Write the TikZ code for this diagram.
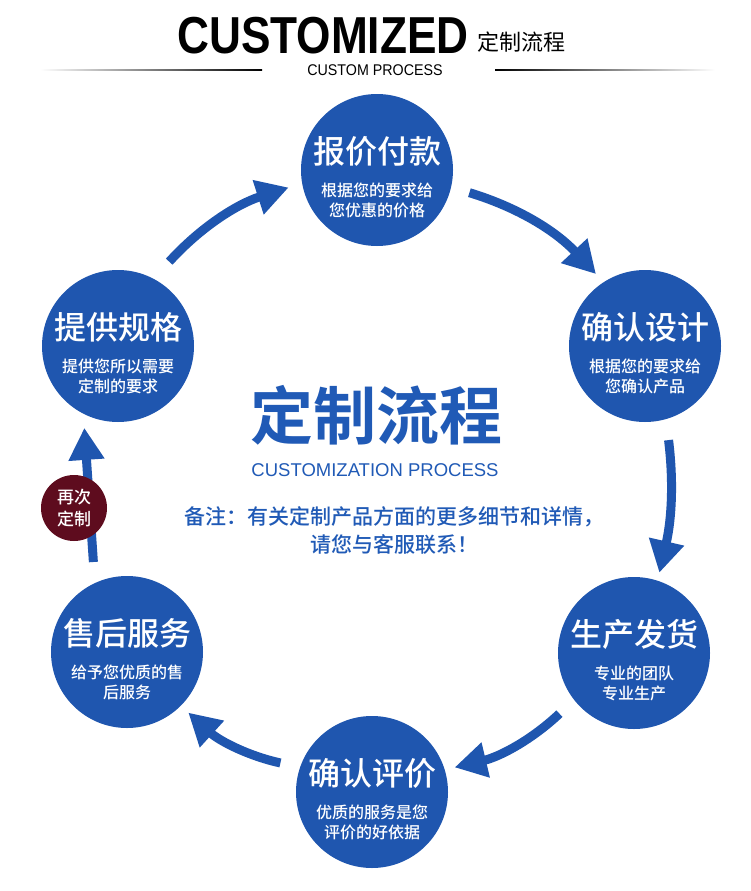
\documentclass[tikz,border=0pt]{standalone}
\usepackage{fontspec}
\setmainfont{Liberation Sans}
\newfontfamily\cjk{Noto Sans CJK SC}
\newfontfamily\cjkmed{Noto Sans CJK SC Medium}
\newfontfamily\cjkbold{Noto Sans CJK SC Bold}
\newfontfamily\headfont[FakeStretch=0.85]{Liberation Sans Bold}
\newfontfamily\narrowfont[FakeStretch=0.92]{Liberation Sans}
\usetikzlibrary{arrows.meta, positioning, calc}
\definecolor{discblue}{RGB}{31,86,175}
\definecolor{textblue}{RGB}{32,90,182}
\definecolor{againred}{RGB}{94,12,30}
\newcommand{\px}[1]{\fontsize{#1}{#1}\selectfont}

\begin{document}
\begin{tikzpicture}[x=1pt, y=-1pt,
  disc/.style={circle, fill=discblue, minimum size=152pt, inner sep=0pt},
  ttl/.style={text=white, font=\cjkmed\px{32}},
  sub/.style={text=white, align=center, font=\cjkmed\fontsize{16}{20}\selectfont},
  again/.style={circle, fill=againred, minimum size=66pt, inner sep=0pt, text=white, align=center, font=\cjkmed\fontsize{17}{22}\selectfont},
  flow/.style={-{Triangle[length=32pt, width=34pt]}, line width=9pt, discblue}
]
  \fill[white] (0,0) rectangle (750,891);
  \useasboundingbox (0,0) rectangle (750,891);

  % Header
  \node[font=\headfont\px{52}, anchor=base west, inner sep=0pt] (head) at (177,54) {CUSTOMIZED};
  \node[font=\cjk\px{22}, anchor=base west, inner sep=0pt] (headcn) at ([xshift=8pt, yshift=3pt]head.base east) {定制流程};
  \node[font=\narrowfont\px{15.5}, inner sep=0pt] (headsub) at (375,70) {CUSTOM PROCESS};
  \shade[left color=white, right color=black] (40,69.4) rectangle (262,70.8);
  \shade[left color=black, right color=white] (495,69.4) rectangle (715,70.8);

  % Steps
  \foreach \n/\x/\y/\ttl/\la/\lb in {
    1/377/170/报价付款/根据您的要求给/您优惠的价格,
    2/645/346/确认设计/根据您的要求给/您确认产品,
    3/634/653/生产发货/专业的团队/专业生产,
    4/372/792/确认评价/优质的服务是您/评价的好依据,
    5/127/652/售后服务/给予您优质的售/后服务,
    6/118/346/提供规格/提供您所以需要/定制的要求} {
    \node[disc] (c\n) at (\x,\y) {};
    \node[ttl] (t\n) at (\x,\y-19) {\ttl};
    \node[sub] (s\n) at (\x,\y+30) {\la\\\lb};
  }

  % Arrows between steps
  \draw[flow, shorten <=23pt, shorten >=14pt] (c6.62) to[bend left=15] (c1.190);
  \draw[flow, shorten <=19pt, shorten >=11pt] (c1.347) to[bend left=15] (c2.123);
  \draw[flow, shorten <=21pt, shorten >=8pt] (c2.286) to[bend left=10] (c3.72);
  \draw[flow, shorten <=20pt, shorten >=10pt] (c3.218) to[bend left=15] (c4.17);
  \draw[flow, shorten <=20pt, shorten >=10pt] (c4.161) to[bend left=15] (c5.315);
  \draw[flow, shorten <=21pt, shorten >=14pt] (c5.115) -- (c6.243);
  \node[again] (re) at (74,508) {再次\\定制};

  % Centre text
  \node[text=textblue, font=\cjkbold\px{63}] (main) at (376,415) {定制流程};
  \node[text=textblue, font=\px{18.5}] (mainsub) at (375,470) {CUSTOMIZATION PROCESS};
  \node[text=textblue, font=\cjkmed\fontsize{21}{28}\selectfont, align=center] (note) at (394,531)
    {备注：有关定制产品方面的更多细节和详情，\\请您与客服联系！};
\end{tikzpicture}
\end{document}
